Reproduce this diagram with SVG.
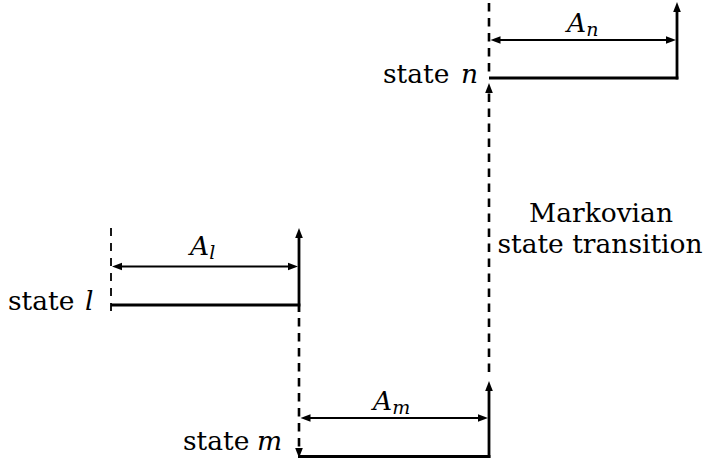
<svg xmlns="http://www.w3.org/2000/svg" width="707" height="464" viewBox="0 0 707 464">
<style>
  text { font-family: 'DejaVu Serif', 'Liberation Serif', serif; font-size: 26.5px; fill: #000; }
  .it { font-style: italic; }
  .sub { font-style: italic; font-size: 19px; }
  .solid { stroke: #000; stroke-width: 2.8; fill: none; }
  .dim { stroke: #000; stroke-width: 2; fill: none; marker-start: url(#ah); marker-end: url(#ah); }
  .dash { stroke: #000; stroke-width: 2.6; fill: none; stroke-dasharray: 8.5 6.5; }
  .dashthin { stroke: #000; stroke-width: 1.8; fill: none; stroke-dasharray: 8 7; }
</style>
<defs>
  <marker id="ah" markerUnits="userSpaceOnUse" viewBox="-6 -5 14 10" markerWidth="14" markerHeight="10" refX="0" refY="0" orient="auto-start-reverse">
    <path d="M6,0 L-4,-3.8 L-4,3.8 Z" fill="#000"/>
  </marker>
</defs>
<g id="connectors">
  <line class="dashthin" x1="111" y1="228" x2="111" y2="311"/>
  <line class="solid" x1="299" y1="312" x2="299" y2="234" marker-end="url(#ah)"/>
  <line class="solid" x1="111" y1="305" x2="300.4" y2="305"/>
  <line class="dim" x1="118" y1="266.5" x2="292" y2="266.5"/>
  <line class="dash" x1="299" y1="318" x2="299" y2="452" marker-end="url(#ah)"/>
  <line class="solid" x1="298" y1="456.5" x2="490.4" y2="456.5"/>
  <line class="solid" x1="489" y1="457.9" x2="489" y2="387" marker-end="url(#ah)"/>
  <line class="dim" x1="306.5" y1="418" x2="482" y2="418"/>
  <line class="dash" x1="489" y1="372" x2="489" y2="89" marker-end="url(#ah)"/>
  <line class="dash" x1="489" y1="3" x2="489" y2="78"/>
  <line class="solid" x1="489" y1="78" x2="678.4" y2="78"/>
  <line class="solid" x1="677" y1="79.4" x2="677" y2="8" marker-end="url(#ah)"/>
  <line class="dim" x1="496.5" y1="40" x2="670" y2="40"/>
</g>
<g id="state-l">
  <text x="8" y="310">state</text>
  <text class="it" x="85" y="310">l</text>
  <text class="it" x="190" y="255">A<tspan class="sub" dy="4">l</tspan></text>
</g>
<g id="state-m">
  <text x="183" y="450">state</text>
  <text class="it" x="257" y="450">m</text>
  <text class="it" x="373" y="410">A<tspan class="sub" dy="4">m</tspan></text>
</g>
<g id="state-n">
  <text x="383" y="83">state</text>
  <text class="it" x="461" y="83">n</text>
  <text class="it" x="567" y="32">A<tspan class="sub" dy="4">n</tspan></text>
</g>
<g id="transition-label">
  <text x="601" y="222" text-anchor="middle">Markovian</text>
  <text x="600" y="253" text-anchor="middle">state transition</text>
</g>
</svg>
